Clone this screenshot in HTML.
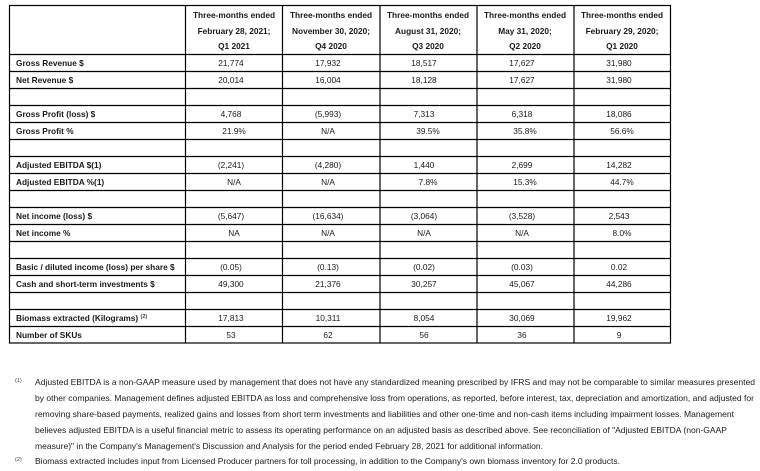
<!DOCTYPE html>
<html><head><meta charset="utf-8"><style>
html,body{margin:0;padding:0;background:#fff;}
svg{display:block;}
text{font-family:"Liberation Sans",Arial,sans-serif;fill:#1a1a1a;}
.b{font-weight:bold;font-size:8.3px;}
.n{font-size:8.3px;}
.f{font-size:8.1px;fill:#222;}
.s{font-size:5.5px;fill:#444;}
</style></head><body>
<svg width="760" height="471" viewBox="0 0 760 471" xmlns="http://www.w3.org/2000/svg">
<g stroke="#000" stroke-width="1.2" fill="none">
<rect x="9.5" y="5.5" width="661" height="337.5"/>
<line x1="185.5" y1="5.5" x2="185.5" y2="343"/>
<line x1="282.5" y1="5.5" x2="282.5" y2="343"/>
<line x1="380" y1="5.5" x2="380" y2="343"/>
<line x1="477" y1="5.5" x2="477" y2="343"/>
<line x1="574" y1="5.5" x2="574" y2="343"/>
<line x1="9.5" y1="54.5" x2="670.5" y2="54.5"/>
<line x1="9.5" y1="71.5" x2="670.5" y2="71.5"/>
<line x1="9.5" y1="88.5" x2="670.5" y2="88.5"/>
<line x1="9.5" y1="105.5" x2="670.5" y2="105.5"/>
<line x1="9.5" y1="122.5" x2="670.5" y2="122.5"/>
<line x1="9.5" y1="139.5" x2="670.5" y2="139.5"/>
<line x1="9.5" y1="156.5" x2="670.5" y2="156.5"/>
<line x1="9.5" y1="173.5" x2="670.5" y2="173.5"/>
<line x1="9.5" y1="190.5" x2="670.5" y2="190.5"/>
<line x1="9.5" y1="207.5" x2="670.5" y2="207.5"/>
<line x1="9.5" y1="224.5" x2="670.5" y2="224.5"/>
<line x1="9.5" y1="241.5" x2="670.5" y2="241.5"/>
<line x1="9.5" y1="258.5" x2="670.5" y2="258.5"/>
<line x1="9.5" y1="275.5" x2="670.5" y2="275.5"/>
<line x1="9.5" y1="292.5" x2="670.5" y2="292.5"/>
<line x1="9.5" y1="309.5" x2="670.5" y2="309.5"/>
<line x1="9.5" y1="326.5" x2="670.5" y2="326.5"/>
</g>
<g text-anchor="middle" class="b">
<text x="234" y="18">Three-months ended</text><text x="234" y="34">February 28, 2021;</text><text x="234" y="49">Q1 2021</text>
<text x="331" y="18">Three-months ended</text><text x="331" y="34">November 30, 2020;</text><text x="331" y="49">Q4 2020</text>
<text x="428" y="18">Three-months ended</text><text x="428" y="34">August 31, 2020;</text><text x="428" y="49">Q3 2020</text>
<text x="525" y="18">Three-months ended</text><text x="525" y="34">May 31, 2020;</text><text x="525" y="49">Q2 2020</text>
<text x="622" y="18">Three-months ended</text><text x="622" y="34">February 29, 2020;</text><text x="622" y="49">Q1 2020</text>
</g>
<g class="b">
<text x="16" y="66">Gross Revenue $</text>
<text x="16" y="83">Net Revenue $</text>
<text x="16" y="117">Gross Profit (loss) $</text>
<text x="16" y="134">Gross Profit %</text>
<text x="16" y="168">Adjusted EBITDA $(1)</text>
<text x="16" y="185">Adjusted EBITDA %(1)</text>
<text x="16" y="219">Net income (loss) $</text>
<text x="16" y="236">Net income %</text>
<text x="16" y="270">Basic / diluted income (loss) per share $</text>
<text x="16" y="287">Cash and short-term investments $</text>
<text x="16" y="321">Biomass extracted (Kilograms) <tspan class="s" dy="-3">(2)</tspan></text>
<text x="16" y="338">Number of SKUs</text>
</g>
<g class="n" text-anchor="middle">
<text x="231" y="66">21,774</text><text x="328" y="66">17,932</text><text x="424" y="66">18,517</text><text x="522" y="66">17,627</text><text x="619" y="66">31,980</text>
<text x="231" y="83">20,014</text><text x="328" y="83">16,004</text><text x="424" y="83">18,128</text><text x="522" y="83">17,627</text><text x="619" y="83">31,980</text>
<text x="231" y="117">4,768</text><text x="328" y="117">(5,993)</text><text x="424" y="117">7,313</text><text x="522" y="117">6,318</text><text x="619" y="117">18,086</text>
<text x="234" y="134">21.9%</text><text x="328" y="134">N/A</text><text x="428" y="134">39.5%</text><text x="525" y="134">35.8%</text><text x="622" y="134">56.6%</text>
<text x="231" y="168">(2,241)</text><text x="328" y="168">(4,280)</text><text x="424" y="168">1,440</text><text x="522" y="168">2,699</text><text x="619" y="168">14,282</text>
<text x="234" y="185">N/A</text><text x="328" y="185">N/A</text><text x="428" y="185">7.8%</text><text x="525" y="185">15.3%</text><text x="622" y="185">44.7%</text>
<text x="231" y="219">(5,647)</text><text x="328" y="219">(16,634)</text><text x="424" y="219">(3,064)</text><text x="522" y="219">(3,528)</text><text x="619" y="219">2,543</text>
<text x="234" y="236">NA</text><text x="328" y="236">N/A</text><text x="424" y="236">N/A</text><text x="522" y="236">N/A</text><text x="622" y="236">8.0%</text>
<text x="231" y="270">(0.05)</text><text x="328" y="270">(0.13)</text><text x="424" y="270">(0.02)</text><text x="522" y="270">(0.03)</text><text x="619" y="270">0.02</text>
<text x="231" y="287">49,300</text><text x="328" y="287">21,376</text><text x="424" y="287">30,257</text><text x="522" y="287">45,067</text><text x="619" y="287">44,286</text>
<text x="231" y="321">17,813</text><text x="328" y="321">10,311</text><text x="424" y="321">8,054</text><text x="522" y="321">30,069</text><text x="619" y="321">19,962</text>
<text x="231" y="338">53</text><text x="328" y="338">62</text><text x="424" y="338">56</text><text x="522" y="338">36</text><text x="619" y="338">9</text>
</g>
<text class="s" x="15" y="382">(1)</text>
<text class="s" x="15" y="461">(2)</text>
<g class="f" lengthAdjust="spacingAndGlyphs">
<text x="35" y="385" textLength="720" lengthAdjust="spacingAndGlyphs">Adjusted EBITDA is a non-GAAP measure used by management that does not have any standardized meaning prescribed by IFRS and may not be comparable to similar measures presented</text>
<text x="35" y="401" textLength="719" lengthAdjust="spacingAndGlyphs">by other companies.  Management defines adjusted EBITDA as loss and comprehensive loss from operations, as reported, before interest, tax, depreciation and amortization, and adjusted for</text>
<text x="35" y="417" textLength="699" lengthAdjust="spacingAndGlyphs">removing share-based payments, realized gains and losses from short term investments and liabilities and other one-time and non-cash items including impairment losses. Management</text>
<text x="35" y="433" textLength="692" lengthAdjust="spacingAndGlyphs">believes adjusted EBITDA is a useful financial metric to assess its operating performance on an adjusted basis as described above. See reconciliation of "Adjusted EBITDA (non-GAAP</text>
<text x="35" y="449" textLength="508" lengthAdjust="spacingAndGlyphs">measure)" in the Company's Management's Discussion and Analysis for the period ended February 28, 2021 for additional information.</text>
<text x="35" y="464" textLength="585" lengthAdjust="spacingAndGlyphs">Biomass extracted includes input from Licensed Producer partners for toll processing, in addition to the Company's own biomass inventory for 2.0 products.</text>
</g>
</svg>
</body></html>
